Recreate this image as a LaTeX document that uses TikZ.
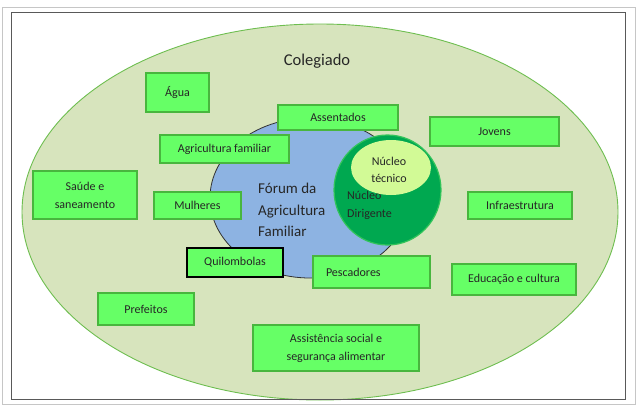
\documentclass[tikz,border=0pt]{standalone}
\usepackage{fontspec}
\setmainfont{Carlito}
\usepackage{tikz}
\usetikzlibrary{
	positioning,
	shapes,
	shapes.geometric,
	}

\definecolor{fundo}{RGB}{215,228,189}
\definecolor{bordafundo}{RGB}{110,190,80}
\definecolor{caixa}{RGB}{102,255,102}
\definecolor{bordacaixa}{RGB}{72,182,62}
\definecolor{azul}{RGB}{141,179,226}
\definecolor{verde}{RGB}{0,168,80}
\definecolor{bordaverde}{RGB}{50,196,90}
\definecolor{claro}{RGB}{210,250,150}

\begin{document}
\begin{tikzpicture}[x=1pt, y=-1pt,
	caixa/.style={draw=bordacaixa, line width=1.3pt, fill=caixa, inner sep=0pt, align=center,
		text=black!85, font=\fontsize{12}{18}\selectfont},
	texto/.style={text=black!85, inner sep=0pt},
	]
		\useasboundingbox (0,0) rectangle (637,407);
		\node[draw=bordafundo, fill=fundo, line width=0.9pt, ellipse, minimum width=596pt, minimum height=376pt, inner sep=0pt] (colegiado) at (320,212) {};
		\draw[gray!45, line width=1pt] (2,7) rectangle (635,404);
		\draw[gray!70!black, line width=0.9pt] (11,12) rectangle (625,399);
		\node[texto, font=\fontsize{16.5}{20}\selectfont] (titulo) at (317,61) {Colegiado};
		\node[draw=black!80, fill=azul, line width=0.8pt, ellipse, minimum width=200pt, minimum height=160pt, inner sep=0pt] (forum) at (310,198) {};
		\node[texto, anchor=west, align=left, font=\fontsize{15}{21.5}\selectfont] (forumtexto) at (258,210) {Fórum da\\Agricultura\\Familiar};
		\node[draw=bordaverde, fill=verde, line width=1.2pt, ellipse, minimum width=107pt, minimum height=110pt, inner sep=0pt] (dirigente) at (387.5,190) {};
		\node[texto, anchor=west, align=left, font=\fontsize{12}{18}\selectfont] (dirigentetexto) at (347,205) {Núcleo\\Dirigente};
		\node[fill=claro, ellipse, minimum width=80pt, minimum height=55pt, inner sep=0pt] (tecnico) at (391,167.5) {};
		\node[texto, align=center, font=\fontsize{12}{17}\selectfont] (tecnicotexto) at (389,169.5) {Núcleo\\técnico};
		\node[caixa, minimum width=63pt, minimum height=39pt] (agua) at (177.5,92.5) {Água};
		\node[caixa, minimum width=120pt, minimum height=25pt] (assentados) at (338,117.5) {Assentados};
		\node[caixa, minimum width=129pt, minimum height=29pt] (jovens) at (494.5,131.5) {Jovens};
		\node[caixa, minimum width=129pt, minimum height=28pt] (agricultura) at (224.5,149) {Agricultura familiar};
		\node[caixa, minimum width=104pt, minimum height=48pt] (saude) at (85,195) {Saúde e\\saneamento};
		\node[caixa, minimum width=87pt, minimum height=27pt] (mulheres) at (197.5,205.5) {Mulheres};
		\node[caixa, minimum width=104pt, minimum height=27pt] (infra) at (520,205.5) {Infraestrutura};
		\node[caixa, draw=black, minimum width=96pt, minimum height=29pt] (quilombolas) at (235,262.5) {Quilombolas};
		\node[caixa, align=left, text width=91pt, inner xsep=13pt, minimum height=32pt] (pescadores) at (371.5,272) {Pescadores};
		\node[caixa, minimum width=124pt, minimum height=31pt] (educacao) at (514,279.5) {Educação e cultura};
		\node[caixa, minimum width=96pt, minimum height=32pt] (prefeitos) at (146,309) {Prefeitos};
		\node[caixa, minimum width=166pt, minimum height=46pt] (assistencia) at (336,348) {Assistência social e\\segurança alimentar};
	\end{tikzpicture}
\end{document}
